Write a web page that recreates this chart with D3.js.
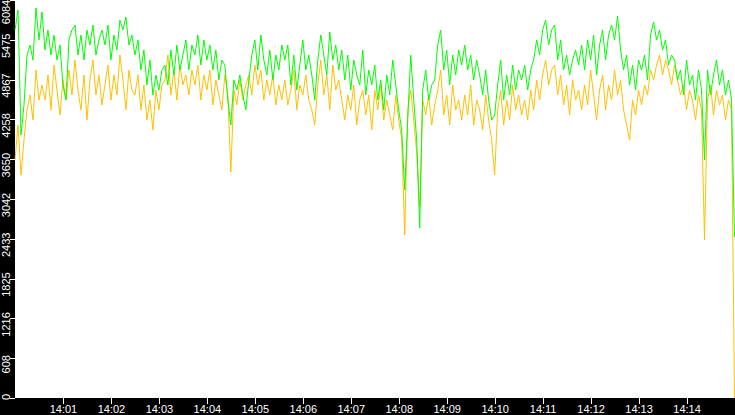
<!DOCTYPE html>
<html>
<head>
<meta charset="utf-8">
<script src="https://cdn.jsdelivr.net/npm/d3@7.9.0/dist/d3.min.js"></script>
<style>
  html, body { margin: 0; padding: 0; background: #000; overflow: hidden; }
  svg { display: block; }
</style>
</head>
<body>
<svg id="chart" width="735" height="415"></svg>
<script>
// samples start at 14:00:00, one every 3.75 s
const startTime = "14:00:00";
const sampleSeconds = 3.75;

const greenSeries = [
  5625,5931,4020,4479,5243,5396,5167,5962,5473,5901,
  5320,5625,5243,5549,5167,5396,4785,4555,5473,5625,
  5702,5243,5549,5167,5625,5396,5702,5243,5473,5625,
  5396,5702,5167,5549,5320,5778,5625,5824,5396,5549,
  5243,5473,5014,5320,4785,5167,4632,4938,4708,5014,
  5090,4785,5320,4938,5396,5014,5243,5473,5014,5396,
  5243,5549,5090,5473,5167,5396,5014,5320,4861,5167,
  5090,4555,4173,4861,4708,4938,4632,4403,4861,5243,
  5473,5014,5549,5167,4938,5320,4861,5243,5014,5396,
  5167,5396,4785,5243,4708,5090,5473,5014,5243,4938,
  4555,5167,5549,5243,4938,5595,5167,5396,5014,5320,
  4861,5243,4708,5167,4938,4785,5320,4632,5014,4785,
  5090,4555,4861,4403,4938,4632,5167,4785,4403,4097,
  3180,4250,5243,4555,3944,2599,4708,5014,4555,4785,
  4861,5396,5625,5014,5320,4785,5243,4938,5320,5090,
  5396,5014,5243,4861,5167,4938,4632,5014,4555,4250,
  4326,4785,5167,4555,4938,4632,5090,4708,5014,4861,
  5090,4708,5014,5167,5473,5243,5625,5778,5396,5625,
  5702,5167,5473,5014,5243,4938,5167,5320,5090,5396,
  5014,5473,5167,5549,4938,5396,5625,5167,5549,5702,
  5473,5839,5320,5014,5243,4785,5090,4708,5167,5014,
  5243,4861,5549,5748,5473,5625,5320,5473,5090,5243,
  5167,4861,5014,4632,5167,4785,4938,4555,5014,4708,
  3638,5014,4632,4938,5167,4785,5014,4632,4861,4555,
  2461
];

const orangeSeries = [
  3638,4173,3409,3944,4403,4632,4250,5014,4555,4785,
  4555,4938,4403,5090,4708,4326,4861,4555,5014,4632,
  5167,4708,4403,4938,4250,4861,5167,4632,4938,4479,
  4785,5090,4555,4938,4632,5243,4861,4403,5014,4708,
  4632,4938,4403,4785,4250,4555,4097,4708,4403,4785,
  4861,5243,4632,5014,4555,5090,4785,4938,4632,5014,
  4785,5090,4555,4938,4708,5014,4479,4861,4632,4403,
  4938,4632,3455,4708,4479,4861,4555,4785,4938,4632,
  5090,4785,5014,4555,4861,4632,4938,4479,4785,4555,
  4861,4479,4708,5014,4403,4785,4632,4938,4555,4403,
  4173,4785,5167,4632,4938,4403,5090,4708,4861,4555,
  4250,4632,4403,4785,4173,4555,4708,4326,4632,4097,
  4708,4403,4785,4250,4555,4326,4097,4632,4250,3944,
  2492,4403,4708,4250,3745,2920,4555,4326,4632,4173,
  4479,4708,5014,4326,4632,4173,4785,4403,4555,4250,
  4632,4326,4785,4173,4555,4403,4097,4632,4250,3944,
  3409,4403,4708,4173,4555,4250,4785,4403,4632,4326,
  4555,4250,4708,4403,4861,4555,4938,5167,4785,5014,
  5090,4632,4938,4479,4785,4326,4861,4555,4708,4403,
  4785,4479,5014,4632,4250,4708,4938,4403,4785,4555,
  5014,4632,4861,4403,4173,3944,4555,4326,4708,4479,
  4785,4632,5014,4861,5090,5243,4938,5167,5014,4785,
  5090,4861,4632,4785,4403,4708,4555,4250,4632,4403,
  2415,4555,4785,4326,4708,4479,4632,4250,4555,4403,
  0
];

const yTicks = [0, 608, 1216, 1825, 2433, 3042, 3650, 4258, 4867, 5475, 6084];
const xTickLabels = ["14:01","14:02","14:03","14:04","14:05","14:06","14:07",
                     "14:08","14:09","14:10","14:11","14:12","14:13","14:14"];

const W = 735, H = 415;
const margin = { top: 0, right: 0.5, bottom: 17, left: 15 };
const plotW = W - margin.left - margin.right;
const plotH = H - margin.top - margin.bottom;

const parseTime = d3.timeParse("%H:%M:%S");
const parseTick = d3.timeParse("%H:%M");
const t0 = parseTime(startTime);
const timeAt = i => new Date(t0.getTime() + i * sampleSeconds * 1000);

const svg = d3.select("#chart");

svg.append("rect").attr("width", W).attr("height", H).attr("fill", "#000");

const g = svg.append("g").attr("transform", `translate(${margin.left},${margin.top})`);

g.append("rect")
  .attr("width", plotW + margin.right)
  .attr("height", plotH)
  .attr("fill", "#fff");

const xScale = d3.scaleTime()
  .domain([t0, timeAt(greenSeries.length - 1)])
  .range([0, plotW]);

const yScale = d3.scaleLinear()
  .domain([0, 6084])
  .range([plotH, 0]);

const line = d3.line()
  .x((d, i) => xScale(timeAt(i)))
  .y(d => yScale(d));

g.append("path")
  .datum(orangeSeries)
  .attr("fill", "none")
  .attr("stroke", "#ffc000")
  .attr("stroke-width", 1)
  .attr("stroke-linejoin", "bevel")
  .attr("d", line);

g.append("path")
  .datum(greenSeries)
  .attr("fill", "none")
  .attr("stroke", "#00ff00")
  .attr("stroke-width", 1)
  .attr("stroke-linejoin", "bevel")
  .attr("d", line);

// x axis
const xTicks = xTickLabels.map(s => parseTick(s));
const xAxis = g.append("g")
  .attr("transform", `translate(0,${plotH})`)
  .call(d3.axisBottom(xScale)
    .tickValues(xTicks)
    .tickFormat(d3.timeFormat("%H:%M"))
    .tickSize(6)
    .tickSizeOuter(0));
xAxis.select(".domain").remove();
xAxis.selectAll(".tick line").attr("stroke", "#fff").attr("shape-rendering", "crispEdges");
xAxis.selectAll(".tick text")
  .attr("fill", "#fff")
  .attr("y", 7)
  .attr("font-family", "'Liberation Sans', Arial, sans-serif")
  .attr("font-size", 11);

// y axis: ticks and rotated labels
const yAxis = g.append("g");
yAxis.selectAll("line")
  .data(yTicks)
  .join("line")
  .attr("x1", -5).attr("x2", 0)
  .attr("y1", d => Math.round(yScale(d)) + 0.5)
  .attr("y2", d => Math.round(yScale(d)) + 0.5)
  .attr("stroke", "#fff");

yAxis.selectAll("text")
  .data(yTicks)
  .join("text")
  .attr("transform", d => {
    const cy = Math.min(Math.max(yScale(d) + 6, 12), plotH - 1);
    return `translate(-5,${cy}) rotate(-90)`;
  })
  .attr("text-anchor", "middle")
  .attr("fill", "#fff")
  .attr("font-family", "'Liberation Sans', Arial, sans-serif")
  .attr("font-size", 11)
  .text(d => d);
</script>
</body>
</html>
